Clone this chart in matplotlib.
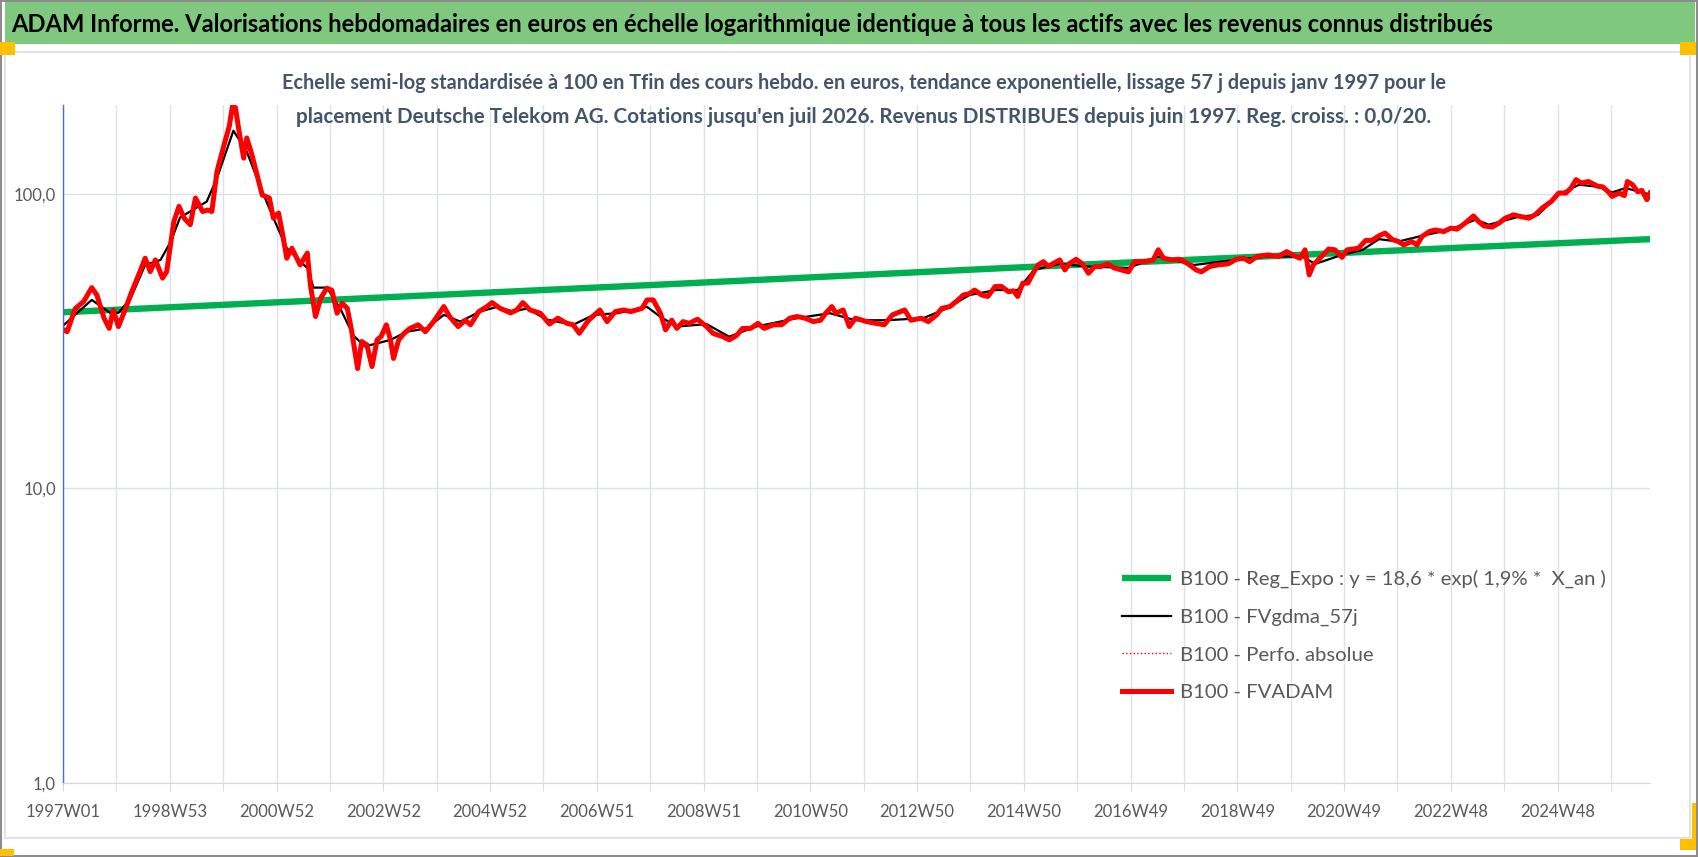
import matplotlib
matplotlib.use("Agg")
import matplotlib.pyplot as plt
from matplotlib import font_manager
from matplotlib.patches import Rectangle
from matplotlib.ticker import NullLocator
import numpy as np


# x = week index counted from 1997W01
fvadam_weeks = [1, 4, 12, 20, 28, 33, 40, 45, 49, 54, 61, 67, 75, 80, 85, 90, 97, 101,
                108, 113, 118, 124, 129, 136, 141, 145, 150, 157, 162, 165, 168, 171,
                176, 179, 184, 189, 194, 201, 205, 210, 214, 218, 223, 231, 238, 241,
                246, 251, 257, 262, 267, 272, 277, 281, 287, 291, 296, 301, 306, 310,
                315, 319, 322, 327, 332, 338, 346, 353, 361, 371, 377, 385, 392, 397,
                405, 413, 418, 426, 436, 442, 448, 455, 465, 474, 482, 491, 497, 503,
                512, 523, 530, 538, 546, 553, 564, 569, 575, 582, 587, 593, 598, 604,
                610, 618, 627, 633, 643, 649, 656, 662, 670, 677, 683, 692, 700, 708,
                715, 723, 731, 738, 743, 749, 753, 760, 766, 772, 783, 792, 800, 808,
                820, 826, 836, 843, 851, 856, 864, 872, 877, 883, 888, 895, 901, 908,
                914, 921, 926, 930, 935, 940, 945, 950, 955, 960, 964, 971, 976, 980,
                987, 993, 999, 1005, 1011, 1018, 1024, 1031, 1038, 1044, 1054, 1062,
                1067, 1072, 1080, 1088, 1096, 1104, 1109, 1117, 1125, 1135, 1143, 1150,
                1156, 1163, 1174, 1184, 1192, 1200, 1205, 1210, 1214, 1218, 1226, 1233,
                1239, 1246, 1251, 1262, 1269, 1275, 1282, 1288, 1295, 1301, 1306, 1314,
                1319, 1324, 1331, 1337, 1345, 1352, 1358, 1366, 1374, 1379, 1384, 1392,
                1399, 1405, 1413, 1421, 1428, 1434, 1441, 1450, 1457, 1464, 1469, 1474,
                1479, 1486, 1495, 1500, 1506, 1509, 1516, 1521, 1524, 1529, 1534, 1538,
                1543, 1546]
fvadam_vals = [34.5, 34.0, 40.8, 43.0, 48.0, 45.3, 37.8, 34.9, 40.3, 35.4, 40.8, 46.5, 54.4,
               60.4, 54.4, 59.6, 51.7, 54.4, 80.5, 90.6, 82.6, 78.5, 96.7, 87.0, 88.0, 87.0,
               119, 147, 169.5, 198, 196, 167, 132, 154.6, 135.8, 116, 99.0, 96.7, 82.6,
               86.0, 72.6, 60.4, 65.3, 57.3, 62.9, 49.0, 38.3, 44.2, 47.8, 47.0, 39.3, 42.5,
               40.8, 34.5, 25.5, 31.5, 30.7, 25.9, 31.9, 32.8, 35.9, 31.9, 27.6, 31.9, 33.5,
               34.9, 35.9, 34.0, 36.8, 41.4, 38.1, 35.4, 37.2, 35.9, 39.8, 41.4, 42.7, 40.8,
               39.4, 40.3, 42.7, 40.3, 39.3, 36.1, 37.8, 36.3, 35.9, 33.6, 37.2, 40.3, 36.8,
               39.8, 40.3, 39.8, 40.8, 43.6, 43.6, 39.3, 34.5, 37.2, 34.9, 36.8, 36.3, 37.5,
               35.4, 33.6, 32.7, 31.9, 33.0, 34.9, 34.9, 36.3, 34.9, 35.9, 35.9, 37.8, 38.3,
               37.8, 36.8, 37.2, 39.3, 41.4, 39.3, 40.3, 35.4, 37.8, 36.8, 36.3, 35.9, 38.8,
               40.3, 37.2, 37.8, 36.8, 38.8, 40.8, 41.4, 43.6, 45.3, 45.8, 47.1, 45.3, 44.8,
               48.4, 48.5, 46.5, 46.8, 44.8, 49.7, 49.7, 53.7, 57.3, 58.8, 56.6, 57.8, 59.6,
               55.1, 57.8, 59.9, 57.8, 53.7, 56.6, 56.6, 57.8, 56.0, 55.1, 54.3, 58.8, 58.8,
               59.6, 64.5, 60.4, 59.6, 59.9, 57.8, 55.1, 54.3, 56.6, 57.3, 57.8, 59.9, 60.4,
               58.8, 61.2, 62.0, 61.2, 63.6, 61.5, 60.4, 64.5, 53.0, 57.3, 61.2, 64.9, 64.5,
               60.8, 64.5, 65.3, 69.4, 69.4, 72.0, 73.5, 69.9, 68.8, 67.0, 68.8, 67.0, 71.6,
               74.4, 75.3, 74.4, 76.4, 75.8, 79.5, 84.1, 80.5, 77.8, 77.0, 79.5, 82.6, 84.8,
               83.5, 82.6, 84.8, 89.4, 94.2, 100.5, 100.5, 104.5, 111.6, 108.7, 110, 106,
               105.5, 101, 97.9, 100.5, 98.5, 110, 107.3, 101.5, 102.6, 95.4, 100.5]

gdma_weeks = [1, 28, 46, 54, 66, 80, 95, 105, 114, 140, 150, 166, 179, 192, 205, 218, 238,
              244, 257, 270, 283, 294, 319, 335, 354, 371, 387, 406, 423, 439, 452, 471,
              497, 517, 540, 569, 582, 598, 627, 649, 675, 715, 747, 772, 802, 838, 861,
              883, 909, 930, 946, 971, 998, 1038, 1067, 1102, 1142, 1174, 1207, 1220,
              1246, 1266, 1282, 1301, 1324, 1350, 1376, 1389, 1418, 1437, 1457, 1477,
              1496, 1509, 1522, 1546]
gdma_vals = [35.9, 43.6, 39.4, 39.4, 44.2, 57.3, 59.6, 68.8, 83.0, 94.0, 113, 163.6, 139,
             106, 82.6, 65.3, 55.9, 48.0, 48.0, 40.8, 33.0, 30.3, 31.9, 34.0, 34.9, 38.8,
             36.8, 39.8, 41.3, 39.8, 40.8, 37.4, 35.9, 38.8, 39.3, 41.3, 38.2, 35.4, 36.1,
             32.7, 35.4, 37.8, 39.3, 37.2, 37.2, 37.8, 40.8, 45.3, 47.1, 47.1, 55.1, 57.8,
             56.6, 56.0, 61.2, 57.3, 59.6, 61.2, 61.2, 57.8, 62.0, 64.5, 70.1, 68.8, 72.0,
             75.3, 81.6, 78.5, 83.5, 84.8, 99.4, 107.3, 105.5, 101, 104.5, 99.4]

reg_weeks = [0, 590, 916, 1546]
reg_vals = [39.6, 49.3, 55.9, 70.1]

tick_weeks = list(range(0, 1457, 104))
tick_labels = ['1997W01', '1998W53', '2000W52', '2002W52', '2004W52', '2006W51',
               '2008W51', '2010W50', '2012W50', '2014W50', '2016W49', '2018W49',
               '2020W49', '2022W48', '2024W48']
last_week = 1546

legend_labels = ['B100 - Reg_Expo : y = 18,6 * exp( 1,9% *  X_an )',
                 'B100 - FVgdma_57j',
                 'B100 - Perfo. absolue',
                 'B100 - FVADAM']

title = ("ADAM Informe. Valorisations hebdomadaires en euros en échelle logarithmique "
         "identique à tous les actifs avec les revenus connus distribués")
sub1 = ("Echelle semi-log standardisée à 100 en Tfin des cours hebdo. en euros, tendance "
        "exponentielle, lissage 57 j depuis janv 1997 pour le")
sub2 = ("placement Deutsche Telekom AG. Cotations jusqu'en juil 2026. Revenus DISTRIBUES "
        "depuis juin 1997. Reg. croiss. : 0,0/20.")


names = {f.name for f in font_manager.fontManager.ttflist}
main_font = 'Liberation Sans Narrow' if 'Liberation Sans Narrow' in names else 'Lato'
plt.rcParams['font.family'] = [main_font, 'DejaVu Sans']

W, H = 1698, 857
fig = plt.figure(figsize=(W / 100, H / 100), dpi=100)


def box(x0, y0, x1, y1):
    # pixel box (top-left origin) -> figure fraction rect
    return [x0 / W, 1 - y1 / H, (x1 - x0) / W, (y1 - y0) / H]


def add_rect(x0, y0, x1, y1, **kw):
    l, b, w, h = box(x0, y0, x1, y1)
    fig.patches.append(Rectangle((l, b), w, h, transform=fig.transFigure, **kw))


# frame decorations
add_rect(1, 1, 1697, 856, fill=False, edgecolor='#8C8C8C', lw=1.5)
add_rect(5, 2, 1695, 44, facecolor='#7FC97F', edgecolor='none')
add_rect(5, 52, 1690, 838, fill=False, edgecolor='#E3E3E3', lw=1.5)
add_rect(0, 42, 15, 55, facecolor='#FFC000', edgecolor='none')
add_rect(1680, 42, 1696, 55, facecolor='#FFC000', edgecolor='none')
add_rect(1692, 803, 1696, 850, facecolor='#FFC000', edgecolor='none')
add_rect(1680, 839, 1696, 850, facecolor='#FFC000', edgecolor='none')
add_rect(0, 849, 14, 856, facecolor='#FFC000', edgecolor='none')

ax = fig.add_axes(box(63, 105, 1650, 783))
ax.set_yscale('log')
ax.set_ylim(1, 200)
ax.set_xlim(0, last_week)

ax.plot(reg_weeks, reg_vals, color='#00B050', lw=4.6, solid_capstyle='butt', label=legend_labels[0])
ax.plot(gdma_weeks, gdma_vals, color='black', lw=1.6, label=legend_labels[1])
ax.plot(fvadam_weeks, fvadam_vals, color='red', lw=1, ls=':', label=legend_labels[2])
ax.plot(fvadam_weeks, fvadam_vals, color='#FF0000', lw=3.6, solid_joinstyle='round', label=legend_labels[3])

ax.set_yticks([1, 10, 100])
ax.set_yticklabels(['1,0', '10,0', '100,0'])
ax.yaxis.set_minor_locator(NullLocator())
ax.set_xticks(tick_weeks)
ax.set_xticklabels(tick_labels)
ax.set_xticks(np.arange(0, last_week, 52), minor=True)
ax.tick_params(axis='y', length=0, pad=5, labelcolor='#595959', labelsize=12)
ax.tick_params(axis='x', which='both', length=6, color='#D9D9D9', pad=9,
               labelcolor='#595959', labelsize=12)
ax.grid(True, which='both', axis='x', color='#DDE1E8', lw=1)
ax.grid(True, which='major', axis='y', color='#DDE1E8', lw=1)
ax.set_axisbelow(True)
for s in ['top', 'right']:
    ax.spines[s].set_visible(False)
ax.spines['left'].set_color('#4472C4')
ax.spines['left'].set_linewidth(1)
ax.spines['bottom'].set_color('#D9D9D9')

leg = ax.legend(loc='upper left', bbox_to_anchor=(1122 / W, 1 - 570 / H),
                bbox_transform=fig.transFigure, frameon=False, fontsize=14.6,
                handlelength=2.4, handletextpad=0.45, labelspacing=1.0,
                borderpad=0, borderaxespad=0)
for t in leg.get_texts():
    t.set_color('#595959')

t_title = fig.text(11 / W, 1 - 24 / H, title, ha='left', va='center',
                   fontsize=18, fontweight='bold', color='black')
t_s1 = fig.text(864 / W, 1 - 83 / H, sub1, ha='center', va='center',
                fontsize=14, fontweight='bold', color='#44546A')
t_s2 = fig.text(864 / W, 1 - 117 / H, sub2, ha='center', va='center',
                fontsize=14, fontweight='bold', color='#44546A')

# scale the long lines so that they span the same width as in the reference
fig.canvas.draw()
r = fig.canvas.get_renderer()
for t, target in [(t_title, 1490), (t_s1, 1167), (t_s2, 1140)]:
    w = t.get_window_extent(r).width
    t.set_fontsize(t.get_fontsize() * target / w)

fig.savefig('out.png', dpi=100)
